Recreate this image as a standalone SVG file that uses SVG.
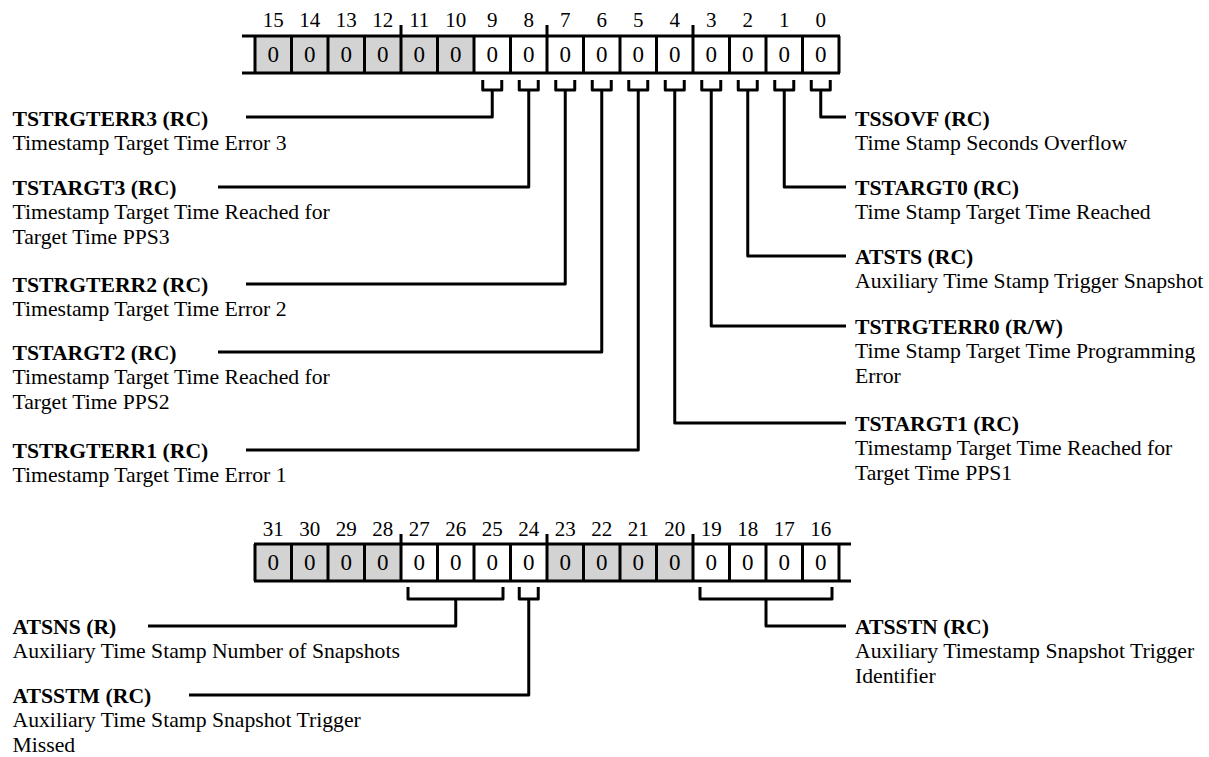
<svg xmlns="http://www.w3.org/2000/svg" width="1209" height="757" viewBox="0 0 1209 757">
<style>
text{font-family:"Liberation Serif","Times New Roman",serif;fill:#000}
.num{font-size:21px;text-anchor:middle}
.val{font-size:23px;text-anchor:middle}
.t{font-size:21.7px;font-weight:bold}
.d{font-size:21.7px}
.ln{stroke:#000;stroke-width:3;fill:none;stroke-linejoin:round;stroke-linecap:butt}
.g{fill:#d3d3d3}
.w{fill:#fff}
</style>
<g id="reg-low">
<rect class="g" x="255" y="36" width="219" height="37"/>
<rect class="w" x="474" y="36" width="365" height="37"/>
<path class="ln" d="M242,36H840M242,73H840M255,36V73M291.5,36V73M328,36V73M364.5,36V73M401,36V73M437.5,36V73M474,36V73M510.5,36V73M547,36V73M583.5,36V73M620,36V73M656.5,36V73M693,36V73M729.5,36V73M766,36V73M802.5,36V73M839,36V73M401,25V36M547,25V36M693,25V36"/>
<text class="num" y="27"><tspan x="273.25">15</tspan><tspan x="309.75">14</tspan><tspan x="346.25">13</tspan><tspan x="382.75">12</tspan><tspan x="419.25">11</tspan><tspan x="455.75">10</tspan><tspan x="492.25">9</tspan><tspan x="528.75">8</tspan><tspan x="565.25">7</tspan><tspan x="601.75">6</tspan><tspan x="638.25">5</tspan><tspan x="674.75">4</tspan><tspan x="711.25">3</tspan><tspan x="747.75">2</tspan><tspan x="784.25">1</tspan><tspan x="820.75">0</tspan></text>
<text class="val" y="62"><tspan x="273.25">0</tspan><tspan x="309.75">0</tspan><tspan x="346.25">0</tspan><tspan x="382.75">0</tspan><tspan x="419.25">0</tspan><tspan x="455.75">0</tspan><tspan x="492.25">0</tspan><tspan x="528.75">0</tspan><tspan x="565.25">0</tspan><tspan x="601.75">0</tspan><tspan x="638.25">0</tspan><tspan x="674.75">0</tspan><tspan x="711.25">0</tspan><tspan x="747.75">0</tspan><tspan x="784.25">0</tspan><tspan x="820.75">0</tspan></text>
</g>
<g id="reg-high">
<rect class="g" x="255" y="544" width="146" height="37"/>
<rect class="w" x="401" y="544" width="146" height="37"/>
<rect class="g" x="547" y="544" width="146" height="37"/>
<rect class="w" x="693" y="544" width="146" height="37"/>
<path class="ln" d="M254,544H851M254,581H851M255,544V581M291.5,544V581M328,544V581M364.5,544V581M401,544V581M437.5,544V581M474,544V581M510.5,544V581M547,544V581M583.5,544V581M620,544V581M656.5,544V581M693,544V581M729.5,544V581M766,544V581M802.5,544V581M839,544V581M401,534V544M547,534V544M693,534V544"/>
<text class="num" y="536"><tspan x="273.25">31</tspan><tspan x="309.75">30</tspan><tspan x="346.25">29</tspan><tspan x="382.75">28</tspan><tspan x="419.25">27</tspan><tspan x="455.75">26</tspan><tspan x="492.25">25</tspan><tspan x="528.75">24</tspan><tspan x="565.25">23</tspan><tspan x="601.75">22</tspan><tspan x="638.25">21</tspan><tspan x="674.75">20</tspan><tspan x="711.25">19</tspan><tspan x="747.75">18</tspan><tspan x="784.25">17</tspan><tspan x="820.75">16</tspan></text>
<text class="val" y="570"><tspan x="273.25">0</tspan><tspan x="309.75">0</tspan><tspan x="346.25">0</tspan><tspan x="382.75">0</tspan><tspan x="419.25">0</tspan><tspan x="455.75">0</tspan><tspan x="492.25">0</tspan><tspan x="528.75">0</tspan><tspan x="565.25">0</tspan><tspan x="601.75">0</tspan><tspan x="638.25">0</tspan><tspan x="674.75">0</tspan><tspan x="711.25">0</tspan><tspan x="747.75">0</tspan><tspan x="784.25">0</tspan><tspan x="820.75">0</tspan></text>
</g>
<g id="connectors" class="ln">
<path d="M482.75,80V90H501.75V80M492.25,90V117H246"/>
<path d="M519.25,80V90H538.25V80M528.75,90V187H218"/>
<path d="M555.75,80V90H574.75V80M565.25,90V284H246"/>
<path d="M592.25,80V90H611.25V80M601.75,90V352H218"/>
<path d="M628.75,80V90H647.75V80M638.25,90V450H246"/>
<path d="M665.25,80V90H684.25V80M674.75,90V423H846"/>
<path d="M701.75,80V90H720.75V80M711.25,90V326H846"/>
<path d="M738.25,80V90H757.25V80M747.75,90V256H846"/>
<path d="M774.75,80V90H793.75V80M784.25,90V187H846"/>
<path d="M811.25,80V90H830.25V80M820.75,90V117H846"/>
<path d="M408,587V599H503V587M455.75,599V626H148"/>
<path d="M519.25,587V599H538.25V587M528.75,599V695H189"/>
<path d="M700,587V599H832V587M766,599V626H846"/>
</g>
<g id="TSTRGTERR3"><text class="t" x="12.5" y="126">TSTRGTERR3 (RC)</text><text class="d" x="12.5" y="150">Timestamp Target Time Error 3</text></g>
<g id="TSTARGT3"><text class="t" x="12.5" y="195">TSTARGT3 (RC)</text><text class="d" x="12.5" y="219">Timestamp Target Time Reached for</text><text class="d" x="12.5" y="244">Target Time PPS3</text></g>
<g id="TSTRGTERR2"><text class="t" x="12.5" y="292">TSTRGTERR2 (RC)</text><text class="d" x="12.5" y="316">Timestamp Target Time Error 2</text></g>
<g id="TSTARGT2"><text class="t" x="12.5" y="360">TSTARGT2 (RC)</text><text class="d" x="12.5" y="384">Timestamp Target Time Reached for</text><text class="d" x="12.5" y="409">Target Time PPS2</text></g>
<g id="TSTRGTERR1"><text class="t" x="12.5" y="458">TSTRGTERR1 (RC)</text><text class="d" x="12.5" y="482">Timestamp Target Time Error 1</text></g>
<g id="TSSOVF"><text class="t" x="855" y="126">TSSOVF (RC)</text><text class="d" x="855" y="150">Time Stamp Seconds Overflow</text></g>
<g id="TSTARGT0"><text class="t" x="855" y="195">TSTARGT0 (RC)</text><text class="d" x="855" y="219">Time Stamp Target Time Reached</text></g>
<g id="ATSTS"><text class="t" x="855" y="264">ATSTS (RC)</text><text class="d" x="855" y="288">Auxiliary Time Stamp Trigger Snapshot</text></g>
<g id="TSTRGTERR0"><text class="t" x="855" y="334">TSTRGTERR0 (R/W)</text><text class="d" x="855" y="358">Time Stamp Target Time Programming</text><text class="d" x="855" y="383">Error</text></g>
<g id="TSTARGT1"><text class="t" x="855" y="431">TSTARGT1 (RC)</text><text class="d" x="855" y="455">Timestamp Target Time Reached for</text><text class="d" x="855" y="480">Target Time PPS1</text></g>
<g id="ATSNS"><text class="t" x="12.5" y="634">ATSNS (R)</text><text class="d" x="12.5" y="658">Auxiliary Time Stamp Number of Snapshots</text></g>
<g id="ATSSTM"><text class="t" x="12.5" y="703">ATSSTM (RC)</text><text class="d" x="12.5" y="727">Auxiliary Time Stamp Snapshot Trigger</text><text class="d" x="12.5" y="752">Missed</text></g>
<g id="ATSSTN"><text class="t" x="855" y="634">ATSSTN (RC)</text><text class="d" x="855" y="658">Auxiliary Timestamp Snapshot Trigger</text><text class="d" x="855" y="683">Identifier</text></g>
</svg>
